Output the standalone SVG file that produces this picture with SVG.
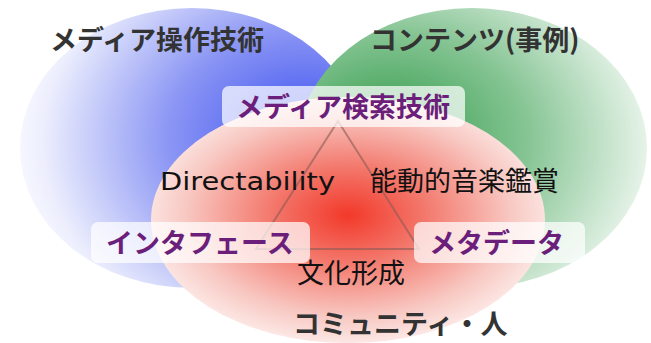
<svg xmlns="http://www.w3.org/2000/svg" width="651" height="343" viewBox="0 0 651 343">
<defs>
<radialGradient id="gBlue" cx="0.78" cy="0.48" r="0.85" fx="0.85" fy="0.45">
<stop offset="0" stop-color="#3a4ff0"/>
<stop offset="0.45" stop-color="#8a95f4"/>
<stop offset="0.85" stop-color="#eceefd"/>
<stop offset="1" stop-color="#ffffff"/>
</radialGradient>
<radialGradient id="gGreen" cx="0.3" cy="0.5" r="0.85" fx="0.25" fy="0.45">
<stop offset="0" stop-color="#2f9a48"/>
<stop offset="0.45" stop-color="#85c493"/>
<stop offset="0.85" stop-color="#eaf5ec"/>
<stop offset="1" stop-color="#ffffff"/>
</radialGradient>
<radialGradient id="gRed" cx="0.5" cy="0.48" r="0.55">
<stop offset="0" stop-color="#f2392a"/>
<stop offset="0.35" stop-color="#f3776b"/>
<stop offset="0.75" stop-color="#f8c8c2"/>
<stop offset="1" stop-color="#fdf0ee"/>
</radialGradient>
<style>
.lbl{fill:#ffffff;fill-opacity:0.72}
.t{font-family:"Noto Sans CJK JP","Noto Sans",sans-serif;font-size:27px}
.head{fill:#333333;font-weight:bold}
.purple{fill:#6b1f7a;font-weight:bold}
.blk{fill:#111111}
.edge{stroke:#8a5a55;stroke-opacity:0.6;stroke-width:2;fill:none}
</style>
</defs>
<rect width="651" height="343" fill="#ffffff"/>
<g id="circle-media-ops"><ellipse cx="192" cy="148" rx="172" ry="140" fill="url(#gBlue)"/></g>
<g id="circle-contents"><ellipse cx="472" cy="148" rx="175" ry="140" fill="url(#gGreen)"/></g>
<g id="circle-community"><ellipse cx="348" cy="220" rx="197" ry="123" fill="url(#gRed)"/></g>
<g id="connectors">
<polygon class="edge" points="338,121 256,249 419,249"/>
</g>
<g id="label-media-ops"><text class="t head" x="50" y="50">メディア操作技術</text></g>
<g id="label-contents"><text class="t head" x="370" y="50">コンテンツ(事例)</text></g>
<g id="label-community"><text class="t head" x="293" y="334">コミュニティ・人</text></g>
<g id="node-search"><rect class="lbl" x="222" y="86" width="243" height="41" rx="7"/><text class="t purple" x="236" y="117">メディア検索技術</text></g>
<g id="node-interface"><rect class="lbl" x="91" y="222" width="219" height="41" rx="7"/><text class="t purple" x="106" y="253">インタフェース</text></g>
<g id="node-metadata"><rect class="lbl" x="414" y="222" width="171" height="41" rx="7"/><text class="t purple" x="429" y="253">メタデータ</text></g>
<g id="text-directability"><text x="160" y="190" fill="#111111" font-family="'DejaVu Sans',sans-serif" font-size="25" textLength="175" lengthAdjust="spacingAndGlyphs">Directability</text></g>
<g id="text-appreciation"><text class="t blk" x="370" y="191">能動的音楽鑑賞</text></g>
<g id="text-culture"><text class="t blk" x="297" y="283">文化形成</text></g>
</svg>
